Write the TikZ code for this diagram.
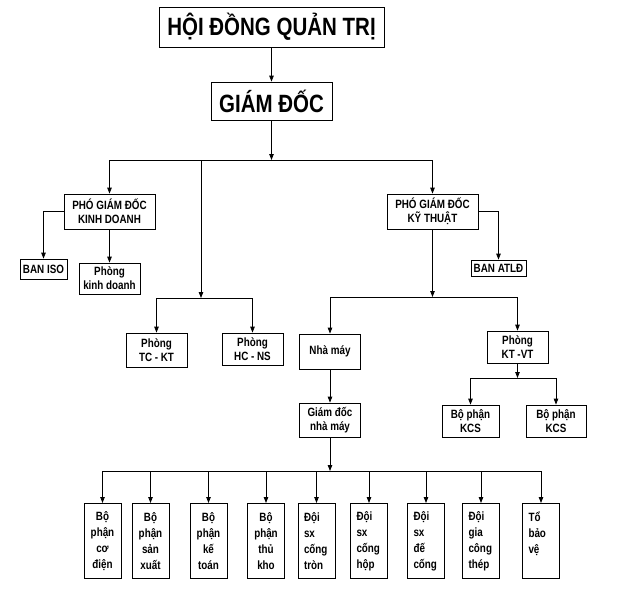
\documentclass[tikz,border=0pt]{standalone}
\usepackage{fontspec}
\usetikzlibrary{arrows.meta}
\newfontfamily\orgfont[FakeStretch=0.82]{Liberation Sans}
\tikzset{
  box/.style={draw, inner sep=1pt, align=center, font=\orgfont\bfseries\fontsize{12}{14}\selectfont},
  head/.style={box, font=\orgfont\bfseries\fontsize{25}{30}\selectfont},
  unit/.style={box, anchor=north, minimum width=37pt, minimum height=75pt, text width=25pt, inner xsep=6pt, font=\orgfont\bfseries\fontsize{12}{16}\selectfont},
}
\begin{document}
\begin{tikzpicture}[>={Stealth[length=6pt,width=4.5pt,inset=0pt]}, x=1pt, y=-1pt, line width=0.8pt]
		\useasboundingbox (0,0) rectangle (624,603);
		% cac nut
		\node[head, minimum width=225pt, minimum height=40pt] (hdqt) at (271.5,27) {HỘI ĐỒNG QUẢN TRỊ};
		\node[head, minimum width=121pt, minimum height=38pt] (gd) at (271.5,101) {GIÁM ĐỐC};
		\node[box, minimum width=91pt, minimum height=35pt] (pgdkd) at (109.5,211.5) {PHÓ GIÁM ĐỐC\\KINH DOANH};
		\node[box, minimum width=91pt, minimum height=35pt] (pgdkt) at (432.5,211.5) {PHÓ GIÁM ĐỐC\\KỸ THUẬT};
		\node[box, minimum width=47pt, minimum height=20pt] (iso) at (43.5,269) {BAN ISO};
		\node[box, minimum width=61pt, minimum height=31pt] (pkd) at (109.5,278.5) {Phòng\\kinh doanh};
		\node[box, minimum width=61pt, minimum height=34pt] (tckt) at (156.5,350) {Phòng\\TC - KT};
		\node[box, minimum width=61pt, minimum height=32pt] (hcns) at (252.5,349) {Phòng\\HC - NS};
		\node[box, minimum width=55pt, minimum height=16pt] (atld) at (498.5,268) {BAN ATLĐ};
		\node[box, minimum width=61pt, minimum height=35pt] (nm) at (330,351.5) {Nhà máy};
		\node[box, minimum width=61pt, minimum height=32pt] (ktvt) at (517.5,347) {Phòng\\KT -VT};
		\node[box, minimum width=57pt, minimum height=32pt] (kcsa) at (470.5,421) {Bộ phận\\KCS};
		\node[box, minimum width=60pt, minimum height=32pt] (kcsb) at (556,421) {Bộ phận\\KCS};
		\node[box, minimum width=61pt, minimum height=34pt] (gdnm) at (330,420) {Giám đốc\\nhà máy};
		% cac diem re nhanh
		\coordinate (b1) at (271.5,160);
		\coordinate (b2) at (201,298);
		\coordinate (b3) at (432.5,297);
		\coordinate (b4) at (517.5,378);
		\coordinate (b5) at (330,471);
		\draw[->] (hdqt) -- (gd);
		\draw[->] (gd) -- (b1);
		\draw (pgdkd |- b1) -- (pgdkt |- b1);
		\draw[->] (pgdkd |- b1) -- (pgdkd);
		\draw[->] (pgdkt |- b1) -- (pgdkt);
		\draw[->] (b2 |- b1) -- (b2);
		\draw (tckt |- b2) -- (hcns |- b2);
		\draw[->] (tckt |- b2) -- (tckt);
		\draw[->] (hcns |- b2) -- (hcns);
		\draw[->] (pgdkd.west) -| (iso);
		\draw[->] (pgdkd) -- (pkd);
		\draw[->] (pgdkt.east) -| (atld);
		\draw[->] (pgdkt) -- (b3);
		\draw (nm |- b3) -- (ktvt |- b3);
		\draw[->] (nm |- b3) -- (nm);
		\draw[->] (ktvt |- b3) -- (ktvt);
		\draw[->] (ktvt) -- (b4);
		\draw (kcsa |- b4) -- (kcsb |- b4);
		\draw[->] (kcsa |- b4) -- (kcsa);
		\draw[->] (kcsb |- b4) -- (kcsb);
		\draw[->] (nm) -- (gdnm);
		\draw[->] (gdnm) -- (b5);
		% cac bo phan truc thuoc nha may
		\foreach \x/\n/\a/\t in {102.5/u1/center/{Bộ\\phận\\cơ\\điện}, 150.5/u2/center/{Bộ\\phận\\sản\\xuất},
			208.5/u3/center/{Bộ\\phận\\kế\\toán}, 266/u4/center/{Bộ\\phận\\thủ\\kho},
			316.5/u5/left/{Đội\\sx\\cống\\tròn}, 369/u6/left/{Đội\\sx\\cống\\hộp},
			426/u7/left/{Đội\\sx\\đế\\cống}, 481/u8/left/{Đội\\gia\\công\\thép},
			541/u9/left/{Tổ\\bảo\\vệ\\\mbox{}}}
			\node[unit, align=\a] (\n) at (\x,503) {\t};
		\draw (u1 |- b5) -- (u9 |- b5);
		\foreach \n in {u1,u2,u3,u4,u5,u6,u7,u8,u9} \draw[->] (\n |- b5) -- (\n);
		\end{tikzpicture}
\end{document}
